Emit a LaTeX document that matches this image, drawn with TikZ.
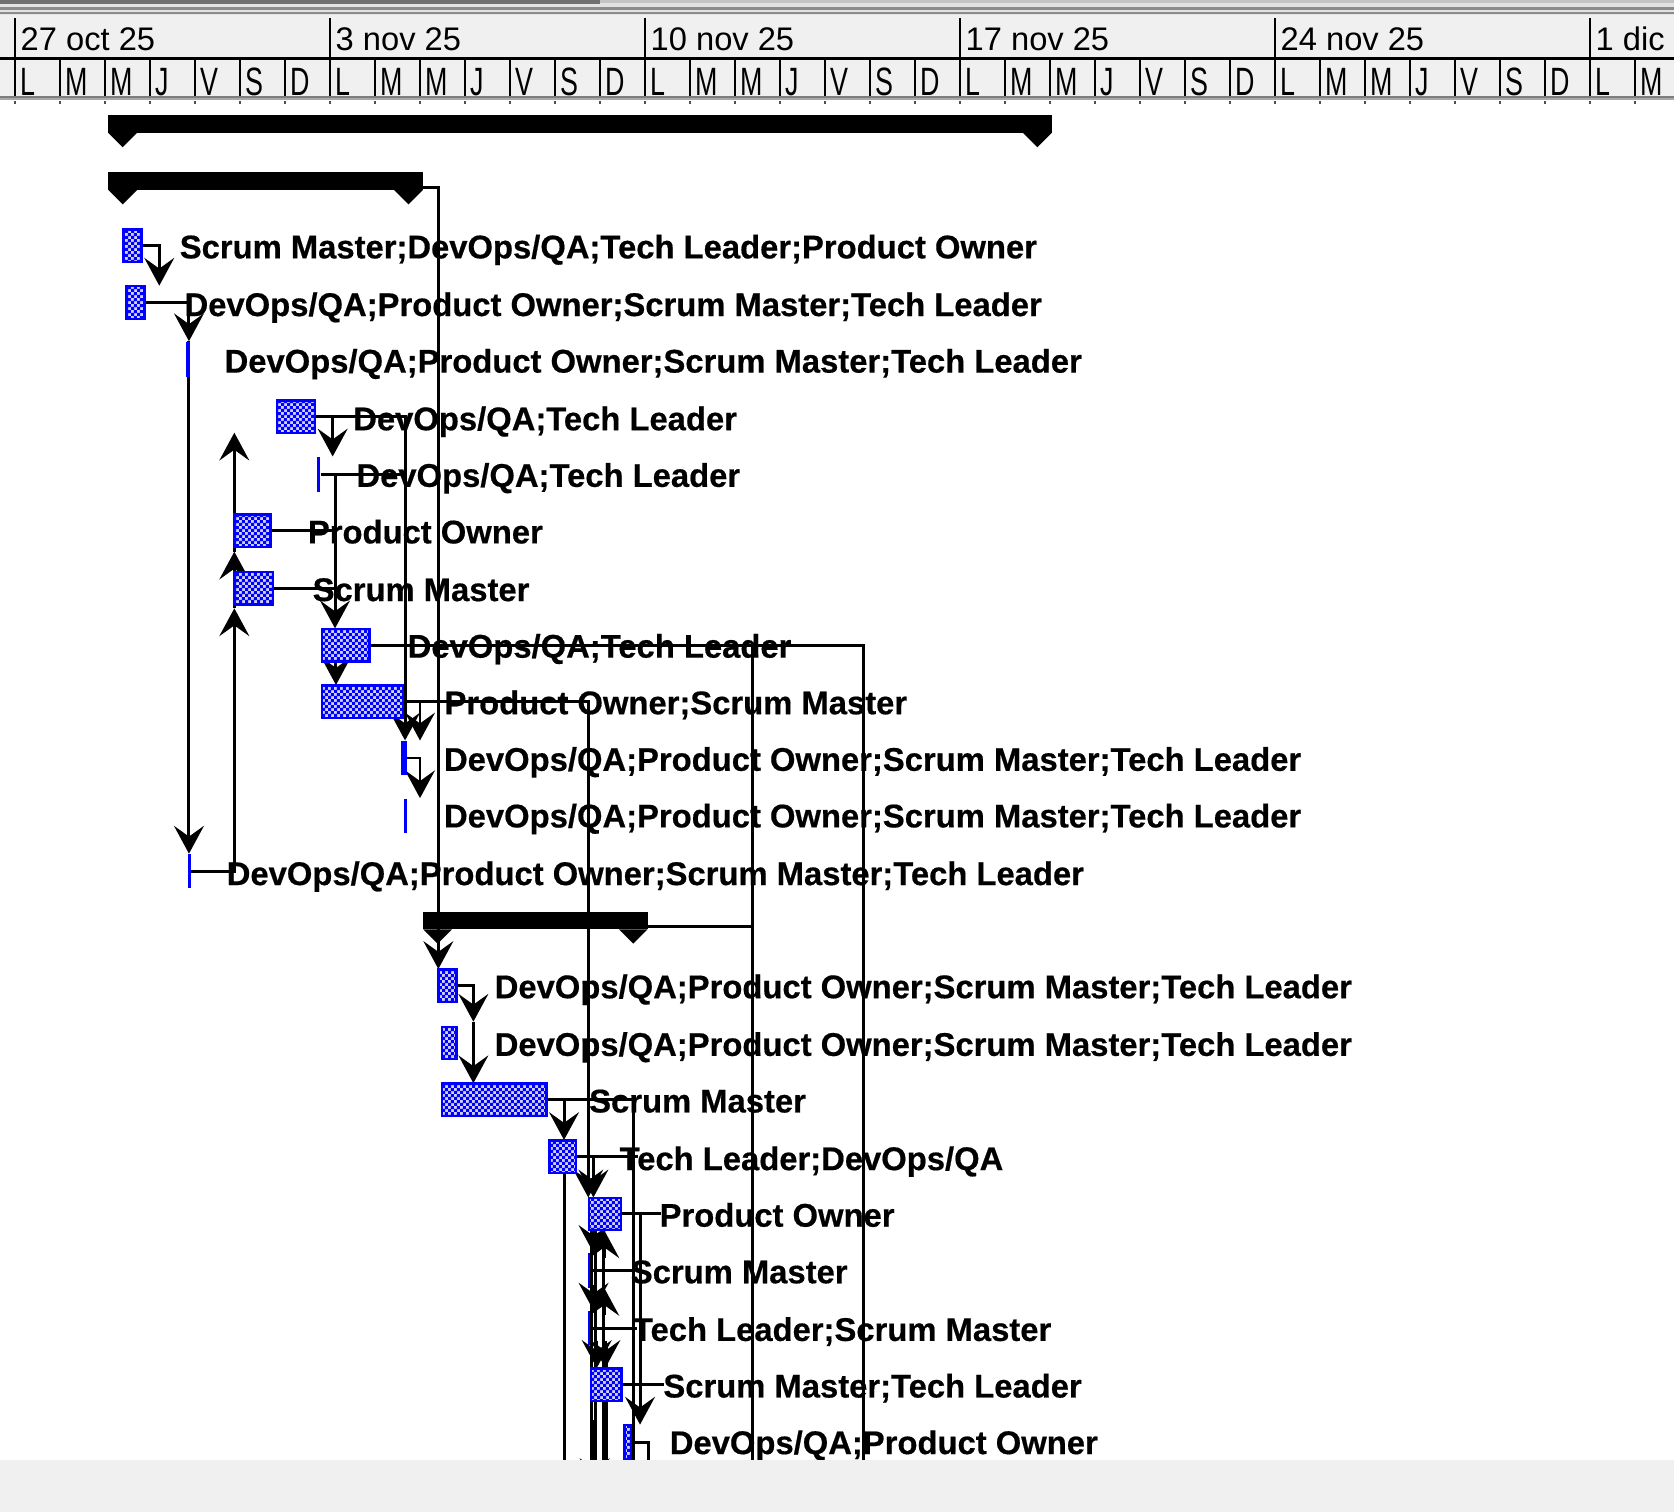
\documentclass[tikz,border=0pt]{standalone}
\usepackage{fontspec}
\setmainfont{Liberation Sans}
\newfontfamily\gfont{Liberation Sans}[BoldFeatures={FakeBold=0.5}]
\usetikzlibrary{arrows.meta,patterns,fit}
\pgfdeclarepatternformonly{gcheck}{\pgfpointorigin}{\pgfqpoint{2.8pt}{2.8pt}}{\pgfqpoint{2.8pt}{2.8pt}}{%
  \pgfpathrectangle{\pgfpointorigin}{\pgfqpoint{1.45pt}{1.45pt}}%
  \pgfpathrectangle{\pgfqpoint{1.4pt}{1.4pt}}{\pgfqpoint{1.45pt}{1.45pt}}%
  \pgfusepath{fill}}
\definecolor{hdr}{HTML}{F0F0F0}
\definecolor{topl}{HTML}{E2E2E2}
\definecolor{topd}{HTML}{707070}
\definecolor{topm}{HTML}{C4C4C4}
\definecolor{gline}{HTML}{8C8C8C}
\definecolor{hbone}{HTML}{7D7D7D}
\definecolor{hbtwo}{HTML}{A8A8A8}
\definecolor{tickc}{HTML}{505050}
\tikzset{
  gbar/.style={draw=blue, line width=1.1pt, fill=blue!18, postaction={pattern=gcheck, pattern color=blue}, inner sep=0pt, outer sep=0pt},
  ms/.style={fill=blue, inner sep=0pt, outer sep=0pt},
  sbar/.style={fill=black, inner sep=0pt, outer sep=0pt},
  lk/.style={line width=1.4pt, black},
  ar/.style={-{Stealth[length=13pt,width=14pt,inset=5pt]}},
  txt/.style={anchor=base west, inner sep=0pt, font=\gfont\fontsize{15.35pt}{18pt}\selectfont\bfseries},
  dayl/.style={anchor=base west, inner sep=0pt, font=\fontsize{18.5pt}{20pt}\selectfont},
  datel/.style={anchor=base west, inner sep=0pt, font=\fontsize{15.3pt}{18pt}\selectfont},
  tickl/.style={draw=tickc, line width=0.6pt}
}
\newcommand\sumtri[1]{%
  \fill (#1.south west) -- ++(13.4,13.4) -- ++(13.4,-13.4) -- cycle;
  \fill (#1.south east) -- ++(-13.4,13.4) -- ++(-13.4,-13.4) -- cycle;}
\begin{document}
\begin{tikzpicture}[x=0.5pt,y=-0.5pt]
\useasboundingbox (0,0) rectangle (1568,1416);
\clip (0,0) rectangle (1568,1416);
\fill[white] (0,0) rectangle (1568,1416);
% ---------- header ----------
\fill[topl] (0,0) rectangle (1568,14);
\fill[topd] (0,0) rectangle (562,4);
\fill[topm] (562,0) rectangle (1568,3);
\draw[gline, line width=1pt] (0,8) -- (1568,8);
\draw[gline, line width=1pt] (0,12.5) -- (1568,12.5);
\fill[hdr] (0,14) rectangle (1568,90);
\draw[line width=1.25pt] (0,54.5) -- (1568,54.5);
\fill[hbone] (0,89.5) rectangle (1568,91.8);
\fill[hbtwo] (0,91.8) rectangle (1568,93.5);
\foreach \l [count=\i from 0] in {L,M,M,J,V,S,D,L,M,M,J,V,S,D,L,M,M,J,V,S,D,L,M,M,J,V,S,D,L,M,M,J,V,S,D,L,M} {
  \pgfmathsetmacro\xx{14+42.15*\i}
  \draw[line width=0.8pt] (\xx,55) -- (\xx,89.5);
  \draw[tickl] (\xx,95) -- (\xx,97.5);
  \node[dayl] (d\i) at (\xx+4.5,89) {\scalebox{0.68}[1]{\l}};
}
\foreach \i/\t in {0/27 oct 25,7/3 nov 25,14/10 nov 25,21/17 nov 25,28/24 nov 25,35/1 dic} {
  \pgfmathsetmacro\xx{14+42.15*\i}
  \draw[line width=0.8pt] (\xx,17) -- (\xx,55);
  \node[datel] (w\i) at (\xx+5,47) {\t};
}
% ---------- texts ----------
\node[txt] (r1) at (168,242) {Scrum Master;DevOps/QA;Tech Leader;Product Owner};
\node[txt] (r2) at (172.5,296) {DevOps/QA;Product Owner;Scrum Master;Tech Leader};
\node[txt] (r3) at (210,349) {DevOps/QA;Product Owner;Scrum Master;Tech Leader};
\node[txt] (r4) at (330.5,403) {DevOps/QA;Tech Leader};
\node[txt] (r5) at (333.5,456) {DevOps/QA;Tech Leader};
\node[txt] (r6) at (288,509) {Product Owner};
\node[txt] (r7) at (292.5,563) {Scrum Master};
\node[txt] (r8) at (381.5,616) {DevOps/QA;Tech Leader};
\node[txt] (r9) at (416,669) {Product Owner;Scrum Master};
\node[txt] (r10) at (415.5,722) {DevOps/QA;Product Owner;Scrum Master;Tech Leader};
\node[txt] (r11) at (415.5,775) {DevOps/QA;Product Owner;Scrum Master;Tech Leader};
\node[txt] (r12) at (212,829) {DevOps/QA;Product Owner;Scrum Master;Tech Leader};
\node[txt] (r13) at (463,935) {DevOps/QA;Product Owner;Scrum Master;Tech Leader};
\node[txt] (r14) at (463,989) {DevOps/QA;Product Owner;Scrum Master;Tech Leader};
\node[txt] (r15) at (551.5,1042) {Scrum Master};
\node[txt] (r16) at (580,1096) {Tech Leader;DevOps/QA};
\node[txt] (r17) at (617.5,1149) {Product Owner};
\node[txt] (r18) at (590.5,1202) {Scrum Master};
\node[txt] (r19) at (592.5,1256) {Tech Leader;Scrum Master};
\node[txt] (r20) at (621,1309) {Scrum Master;Tech Leader};
\node[txt] (r21) at (627,1362) {DevOps/QA;Product Owner};
% ---------- geometry of bars (anchors for connectors) ----------
\path
  node[sbar, fit={(101.5,108) (985,124.5)}] (s1) {}
  node[sbar, fit={(101.5,161) (396,178)}] (s2) {}
  node[sbar, fit={(396.5,854.5) (606.6,870.5)}] (s3) {};
\coordinate (bot) at (0,1385);
\coordinate (ua) at (219.5,569.8);
\coordinate (ub) at (219.5,516.7);
\coordinate (uc) at (219.5,405.3);
\coordinate (k13) at (443.4,957);
\path
  node[inner sep=0pt, fit={(115.6,215) (132.6,245.7)}] (t1) {}
  node[inner sep=0pt, fit={(118.4,268) (135.4,298.7)}] (t2) {}
  node[inner sep=0pt, fit={(174,320) (178,353)}] (m3) {}
  node[inner sep=0pt, fit={(259.2,375) (295,405.5)}] (t4) {}
  node[inner sep=0pt, fit={(297,428) (300,460.5)}] (m5) {}
  node[inner sep=0pt, fit={(219.6,482) (253.5,512.6)}] (t6) {}
  node[inner sep=0pt, fit={(219.6,535.5) (256,566.3)}] (t7) {}
  node[inner sep=0pt, fit={(301.4,589) (346.2,619.7)}] (t8) {}
  node[inner sep=0pt, fit={(301.4,642) (377.4,672.5)}] (t9) {}
  node[inner sep=0pt, fit={(375.6,694) (381,726)}] (m10) {}
  node[inner sep=0pt, fit={(378.7,748) (381,780)}] (m11) {}
  node[inner sep=0pt, fit={(176,800) (178.5,832)}] (m12) {}
  node[inner sep=0pt, fit={(410.6,908) (427.7,938.8)}] (t13) {}
  node[inner sep=0pt, fit={(413.8,961.7) (427.7,992)}] (t14) {}
  node[inner sep=0pt, fit={(413.8,1015) (512,1045.6)}] (t15) {}
  node[inner sep=0pt, fit={(514.6,1068.2) (539.8,1099)}] (t16) {}
  node[inner sep=0pt, fit={(552,1122) (581.6,1152)}] (t17) {}
  node[inner sep=0pt, fit={(550.5,1174) (553,1206)}] (m18) {}
  node[inner sep=0pt, fit={(550.5,1228) (553,1260)}] (m19) {}
  node[inner sep=0pt, fit={(553.7,1281.7) (582,1312.5)}] (t20) {}
  node[inner sep=0pt, fit={(584.9,1334.8) (591.3,1367)}] (t21) {};
% ---------- connectors ----------
\draw[lk,ar] (t1.east) -| (149.2,0 |- t2.north);
\draw[lk,ar] (t2.east) -| (177,0 |- m3.north);
\draw[lk,ar] (177,0 |- m3.north) -- (177,0 |- m12.north);
\draw[lk,ar] ([yshift=1.25pt]s2.south east) -| (410.6,0 |- t13.north);
\draw[lk,ar] (t4.east) -| (379.4,0 |- m10.north);
\draw[lk,ar] (311.6,0 |- t4.east) -- (311.6,0 |- m5.north);
\draw[lk] (m5.east) -- (379.4,0 |- m5.east);
\draw[lk,ar] (313.8,0 |- m5.east) -- (313.8,0 |- t8.north);
\draw[lk] (t6.east) -- (313.8,0 |- t6.east);
\draw[lk] (t7.east) -- (313.8,0 |- t7.east);
\draw[lk] (t8.east) -| (808.6,0 |- bot);
\draw[lk] (705,0 |- t8.east) -- (705,0 |- bot);
\draw[lk,ar] (314.7,0 |- t8.south) -- (314.7,0 |- t9.north);
\draw[lk,ar] (t9.east) -| (551,0 |- t17.north);
\draw[lk,ar] (393.4,0 |- t9.east) -- (393.4,0 |- m10.north);
\draw[lk,ar] (m10.east) -| (393.4,0 |- m11.north);
\draw[lk,ar] (m12.east) -| (ua);
\draw[lk,ar] (ua) -- (ub);
\draw[lk,ar] (ub) -- (uc);
\draw[lk] ([yshift=1.25pt]s3.south east) -- ++(98.4,0);
\draw[lk,ar] (t13.east) -| (k13);
\draw[lk,ar] (k13) -- (443.4,0 |- t15.north);
\draw[lk] (t15.east) -| (593.2,0 |- bot);
\draw[lk,ar] (528.3,0 |- t15.east) -- (528.3,0 |- t16.north);
\draw[lk] (528.3,0 |- t16.south) -- (528.3,0 |- bot);
\draw[lk] (t16.east) -- (598,0 |- t16.east);
\draw[lk,ar] (555.8,0 |- t16.east) -- (555.8,0 |- t17.north);
\draw[lk] (t17.east) -- (619,0 |- t17.east);
\draw[lk,ar] (599.5,0 |- t17.east) -- (599.5,0 |- t21.north);
\draw[lk] (m18.east) -- (595,0 |- m18.east);
\draw[lk] (m19.east) -- (597,0 |- m19.east);
\draw[lk] (t20.east) -- (622,0 |- t20.east);
\draw[lk] (t21.east) -| (607,0 |- bot);
% cluster below row 17
\draw[lk] (554,0 |- t17.south) -- (554,0 |- bot);
\draw[lk] (558,0 |- t17.south) -- (558,0 |- bot);
\draw[lk] (565,0 |- t17.south) -- (565,0 |- bot);
\draw[lk] (568.5,0 |- m19.south) -- (568.5,0 |- bot);
\draw[lk,ar] (556,1150) -- (556,0 |- m18.north);
\draw[lk,ar] (566,1178) -- (566,0 |- t17.south);
\draw[lk,ar] (556,1204) -- (556,0 |- m19.north);
\draw[lk,ar] (566,1232) -- (566,0 |- m18.south);
\draw[lk,ar] (559,1256) -- (559,0 |- t20.north);
\draw[lk,ar] (567,1256) -- (567,0 |- t20.north);
\draw[lk,ar] (557,1330) -- (557,1392);
% ---------- bars on top ----------
\node[gbar, fit={(115.6,215) (132.6,245.7)}] (b1) {};
\node[gbar, fit={(118.4,268) (135.4,298.7)}] (b2) {};
\node[ms, fit={(174,320) (178,353)}] (bm3) {};
\node[gbar, fit={(259.2,375) (295,405.5)}] (b4) {};
\node[ms, fit={(297,428) (300,460.5)}] (bm5) {};
\node[gbar, fit={(219.6,482) (253.5,512.6)}] (b6) {};
\node[gbar, fit={(219.6,535.5) (256,566.3)}] (b7) {};
\node[gbar, fit={(301.4,589) (346.2,619.7)}] (b8) {};
\node[gbar, fit={(301.4,642) (377.4,672.5)}] (b9) {};
\node[ms, fit={(375.6,694) (381,726)}] (bm10) {};
\node[ms, fit={(378.7,748) (381,780)}] (bm11) {};
\node[ms, fit={(176,800) (178.5,832)}] (bm12) {};
\node[gbar, fit={(410.6,908) (427.7,938.8)}] (b13) {};
\node[gbar, fit={(413.8,961.7) (427.7,992)}] (b14) {};
\node[gbar, fit={(413.8,1015) (512,1045.6)}] (b15) {};
\node[gbar, fit={(514.6,1068.2) (539.8,1099)}] (b16) {};
\node[gbar, fit={(552,1122) (581.6,1152)}] (b17) {};
\node[ms, fit={(550.5,1174) (553,1206)}] (bm18) {};
\node[ms, fit={(550.5,1228) (553,1260)}] (bm19) {};
\node[gbar, fit={(553.7,1281.7) (582,1312.5)}] (b20) {};
\node[gbar, fit={(584.9,1334.8) (591.3,1367)}] (b21) {};
% summary bars
\node[sbar, fit={(101.5,108) (985,124.5)}] (sb1) {};
\node[sbar, fit={(101.5,161) (396,178)}] (sb2) {};
\node[sbar, fit={(396.5,854.5) (606.6,870.5)}] (sb3) {};
\sumtri{sb1}
\sumtri{sb2}
\sumtri{sb3}
% ---------- bottom strip ----------
\fill[hdr] (0,1368) rectangle (1568,1416);
\end{tikzpicture}
\end{document}
